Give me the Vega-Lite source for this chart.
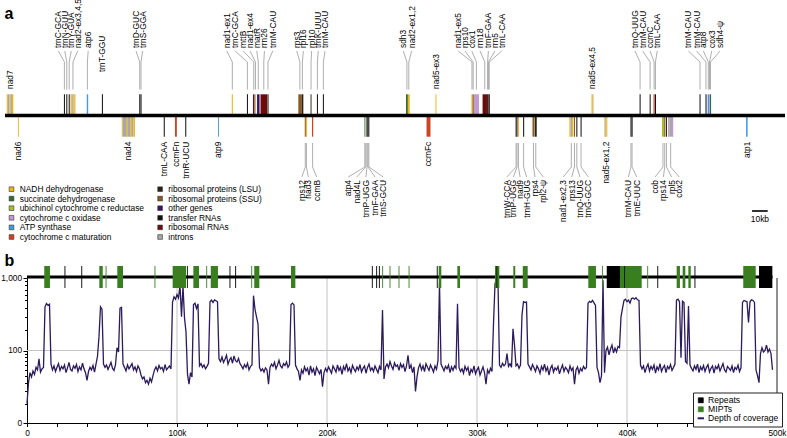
{
  "$schema": "https://vega.github.io/schema/vega-lite/v6.json",
  "width": 787,
  "height": 438,
  "autosize": "none",
  "padding": 0,
  "background": "white",
  "config": {"view": {"stroke": null}, "font": "Liberation Sans", "axis": {"labelOverlap": false, "labelBound": false}},
  "datasets": {
    "genes": [
      {"s":1.08,"e":1.78,"str":"t","cat":"NADH dehydrogenase"},
      {"s":1.78,"e":2.93,"str":"t","cat":"introns"},
      {"s":2.93,"e":3.63,"str":"t","cat":"NADH dehydrogenase"},
      {"s":3.63,"e":4.46,"str":"t","cat":"introns"},
      {"s":4.46,"e":5.29,"str":"t","cat":"NADH dehydrogenase"},
      {"s":37.55,"e":38.2,"str":"t","cat":"transfer RNAs"},
      {"s":39.05,"e":39.7,"str":"t","cat":"transfer RNAs"},
      {"s":40.6,"e":41.25,"str":"t","cat":"transfer RNAs"},
      {"s":41.7,"e":42.4,"str":"t","cat":"NADH dehydrogenase"},
      {"s":42.4,"e":43.2,"str":"t","cat":"introns"},
      {"s":43.2,"e":43.8,"str":"t","cat":"NADH dehydrogenase"},
      {"s":43.8,"e":44.3,"str":"t","cat":"introns"},
      {"s":44.3,"e":44.9,"str":"t","cat":"NADH dehydrogenase"},
      {"s":52.1,"e":53.0,"str":"t","cat":"ATP synthase"},
      {"s":61.75,"e":62.4,"str":"t","cat":"transfer RNAs"},
      {"s":85.55,"e":86.2,"str":"t","cat":"transfer RNAs"},
      {"s":86.35,"e":87.0,"str":"t","cat":"transfer RNAs"},
      {"s":144.5,"e":145.2,"str":"t","cat":"NADH dehydrogenase"},
      {"s":154.15,"e":154.8,"str":"t","cat":"transfer RNAs"},
      {"s":158.0,"e":159.0,"str":"t","cat":"other genes"},
      {"s":159.3,"e":159.9,"str":"t","cat":"NADH dehydrogenase"},
      {"s":160.6,"e":162.2,"str":"t","cat":"other genes"},
      {"s":162.8,"e":167.0,"str":"t","cat":"ribosomal RNAs"},
      {"s":167.25,"e":167.9,"str":"t","cat":"transfer RNAs"},
      {"s":186.9,"e":188.9,"str":"t","cat":"ribosomal proteins (SSU)"},
      {"s":188.9,"e":190.1,"str":"t","cat":"ribosomal proteins (LSU)"},
      {"s":194.7,"e":195.3,"str":"t","cat":"ribosomal proteins (LSU)"},
      {"s":198.75,"e":199.4,"str":"t","cat":"transfer RNAs"},
      {"s":202.55,"e":203.2,"str":"t","cat":"transfer RNAs"},
      {"s":255.5,"e":256.7,"str":"t","cat":"succinate dehydrogenase"},
      {"s":256.7,"e":257.9,"str":"t","cat":"NADH dehydrogenase"},
      {"s":274.3,"e":274.9,"str":"t","cat":"NADH dehydrogenase"},
      {"s":297.2,"e":297.9,"str":"t","cat":"NADH dehydrogenase"},
      {"s":297.9,"e":298.7,"str":"t","cat":"ribosomal proteins (SSU)"},
      {"s":298.8,"e":302.0,"str":"t","cat":"cytochrome c oxidase"},
      {"s":304.3,"e":307.1,"str":"t","cat":"ribosomal RNAs"},
      {"s":307.2,"e":307.8,"str":"t","cat":"transfer RNAs"},
      {"s":307.8,"e":308.2,"str":"t","cat":"ribosomal RNAs"},
      {"s":308.25,"e":308.9,"str":"t","cat":"transfer RNAs"},
      {"s":373.7,"e":374.2,"str":"t","cat":"NADH dehydrogenase"},
      {"s":374.2,"e":374.6,"str":"t","cat":"introns"},
      {"s":374.6,"e":375.0,"str":"t","cat":"NADH dehydrogenase"},
      {"s":404.35,"e":405.0,"str":"t","cat":"transfer RNAs"},
      {"s":410.75,"e":411.4,"str":"t","cat":"transfer RNAs"},
      {"s":413.2,"e":414.0,"str":"t","cat":"cytochrome c maturation"},
      {"s":414.15,"e":414.8,"str":"t","cat":"transfer RNAs"},
      {"s":442.55,"e":443.2,"str":"t","cat":"transfer RNAs"},
      {"s":446.35,"e":447.0,"str":"t","cat":"transfer RNAs"},
      {"s":447.7,"e":448.6,"str":"t","cat":"ATP synthase"},
      {"s":448.6,"e":449.2,"str":"t","cat":"cytochrome c oxidase"},
      {"s":449.2,"e":449.9,"str":"t","cat":"succinate dehydrogenase"},
      {"s":8.2,"e":8.8,"str":"b","cat":"NADH dehydrogenase"},
      {"s":74.4,"e":75.0,"str":"b","cat":"NADH dehydrogenase"},
      {"s":75.0,"e":77.1,"str":"b","cat":"introns"},
      {"s":77.1,"e":77.9,"str":"b","cat":"NADH dehydrogenase"},
      {"s":77.9,"e":80.1,"str":"b","cat":"introns"},
      {"s":80.1,"e":80.9,"str":"b","cat":"NADH dehydrogenase"},
      {"s":80.9,"e":81.8,"str":"b","cat":"introns"},
      {"s":81.8,"e":82.8,"str":"b","cat":"NADH dehydrogenase"},
      {"s":101.15,"e":101.8,"str":"b","cat":"transfer RNAs"},
      {"s":108.3,"e":109.5,"str":"b","cat":"cytochrome c maturation"},
      {"s":114.85,"e":115.5,"str":"b","cat":"transfer RNAs"},
      {"s":135.7,"e":136.3,"str":"b","cat":"ATP synthase"},
      {"s":191.0,"e":191.7,"str":"b","cat":"ribosomal proteins (SSU)"},
      {"s":191.7,"e":192.4,"str":"b","cat":"NADH dehydrogenase"},
      {"s":195.6,"e":196.4,"str":"b","cat":"cytochrome c maturation"},
      {"s":228.9,"e":229.6,"str":"b","cat":"ATP synthase"},
      {"s":229.6,"e":230.2,"str":"b","cat":"NADH dehydrogenase"},
      {"s":230.35,"e":230.95,"str":"b","cat":"transfer RNAs"},
      {"s":230.95,"e":231.55,"str":"b","cat":"transfer RNAs"},
      {"s":231.55,"e":232.15,"str":"b","cat":"transfer RNAs"},
      {"s":268.6,"e":271.1,"str":"b","cat":"cytochrome c maturation"},
      {"s":325.35,"e":325.95,"str":"b","cat":"transfer RNAs"},
      {"s":325.95,"e":326.55,"str":"b","cat":"transfer RNAs"},
      {"s":326.8,"e":327.5,"str":"b","cat":"NADH dehydrogenase"},
      {"s":330.15,"e":330.8,"str":"b","cat":"transfer RNAs"},
      {"s":336.1,"e":337.4,"str":"b","cat":"ribosomal proteins (SSU)"},
      {"s":337.6,"e":338.8,"str":"b","cat":"ribosomal proteins (LSU)"},
      {"s":359.6,"e":360.3,"str":"b","cat":"NADH dehydrogenase"},
      {"s":360.3,"e":361.3,"str":"b","cat":"introns"},
      {"s":361.3,"e":362.1,"str":"b","cat":"NADH dehydrogenase"},
      {"s":362.5,"e":363.2,"str":"b","cat":"ribosomal proteins (SSU)"},
      {"s":364.05,"e":364.7,"str":"b","cat":"transfer RNAs"},
      {"s":366.75,"e":367.4,"str":"b","cat":"transfer RNAs"},
      {"s":381.9,"e":382.5,"str":"b","cat":"NADH dehydrogenase"},
      {"s":382.5,"e":383.2,"str":"b","cat":"introns"},
      {"s":383.2,"e":383.8,"str":"b","cat":"NADH dehydrogenase"},
      {"s":398.55,"e":399.2,"str":"b","cat":"transfer RNAs"},
      {"s":399.25,"e":399.9,"str":"b","cat":"transfer RNAs"},
      {"s":418.6,"e":419.9,"str":"b","cat":"ubichinol cytochrome c reductase"},
      {"s":420.0,"e":420.7,"str":"b","cat":"ribosomal proteins (SSU)"},
      {"s":421.1,"e":421.8,"str":"b","cat":"ribosomal proteins (LSU)"},
      {"s":422.5,"e":423.2,"str":"b","cat":"cytochrome c oxidase"},
      {"s":423.2,"e":425.0,"str":"b","cat":"introns"},
      {"s":425.0,"e":425.8,"str":"b","cat":"cytochrome c oxidase"},
      {"s":472.2,"e":473.2,"str":"b","cat":"ATP synthase"}
    ],
    "labels": [
      {"n":"nad7","side":"t","lv":"near","lx":3.2,"gx":3.2},
      {"n":"trnT-GGU","side":"t","lv":"mid","lx":62.0,"gx":62.0},
      {"n":"nad5-ex3","side":"t","lv":"near","lx":274.6,"gx":274.6},
      {"n":"nad5-ex4,5","side":"t","lv":"near","lx":374.3,"gx":374.3},
      {"n":"trnC-GCA","side":"t","lv":"far","lx":34.0,"gx":37.85},
      {"n":"trnN-GUU","side":"t","lv":"far","lx":38.1,"gx":39.35},
      {"n":"trnY-GUA","side":"t","lv":"far","lx":42.2,"gx":40.9},
      {"n":"nad2-ex3,4,5","side":"t","lv":"far","lx":46.3,"gx":43.3},
      {"n":"atp6","side":"t","lv":"far","lx":53.0,"gx":52.5},
      {"n":"trnD-GUC","side":"t","lv":"far","lx":83.5,"gx":85.85},
      {"n":"trnS-GGA","side":"t","lv":"far","lx":87.7,"gx":86.65},
      {"n":"nad1-ex1","side":"t","lv":"far","lx":141.3,"gx":144.85},
      {"n":"trnC-GCA","side":"t","lv":"far","lx":146.6,"gx":154.45},
      {"n":"mttB","side":"t","lv":"far","lx":151.8,"gx":158.5},
      {"n":"nad1-ex4","side":"t","lv":"far","lx":156.1,"gx":159.6},
      {"n":"matR","side":"t","lv":"far","lx":160.4,"gx":161.4},
      {"n":"rrn26","side":"t","lv":"far","lx":165.3,"gx":164.9},
      {"n":"trnM-CAU","side":"t","lv":"far","lx":170.6,"gx":167.55},
      {"n":"rps3","side":"t","lv":"far","lx":185.9,"gx":187.9},
      {"n":"rpl16","side":"t","lv":"far","lx":190.1,"gx":189.5},
      {"n":"rpl10","side":"t","lv":"far","lx":195.4,"gx":195.0},
      {"n":"trnK-UUU","side":"t","lv":"far","lx":199.6,"gx":199.05},
      {"n":"trnM-CAU","side":"t","lv":"far","lx":203.9,"gx":202.85},
      {"n":"sdh3","side":"t","lv":"far","lx":253.8,"gx":256.1},
      {"n":"nad2-ex1,2","side":"t","lv":"far","lx":259.1,"gx":257.3},
      {"n":"nad1-ex5","side":"t","lv":"far","lx":288.8,"gx":297.55},
      {"n":"rps10","side":"t","lv":"far","lx":293.1,"gx":298.3},
      {"n":"cox1","side":"t","lv":"far","lx":297.4,"gx":300.4},
      {"n":"rrn18","side":"t","lv":"far","lx":302.7,"gx":305.7},
      {"n":"trnF-GAA","side":"t","lv":"far","lx":308.0,"gx":307.5},
      {"n":"rrn5","side":"t","lv":"far","lx":312.2,"gx":308.0},
      {"n":"trnL-CAA","side":"t","lv":"far","lx":316.5,"gx":308.55},
      {"n":"trnQ-UUG","side":"t","lv":"far","lx":401.4,"gx":404.65},
      {"n":"trnM-CAU","side":"t","lv":"far","lx":406.3,"gx":411.05},
      {"n":"ccmC","side":"t","lv":"far","lx":411.0,"gx":413.6},
      {"n":"trnL-CAA","side":"t","lv":"far","lx":415.6,"gx":414.45},
      {"n":"trnM-CAU","side":"t","lv":"far","lx":435.4,"gx":442.85},
      {"n":"trnM-CAU","side":"t","lv":"far","lx":440.7,"gx":446.65},
      {"n":"atp8","side":"t","lv":"far","lx":445.0,"gx":448.15},
      {"n":"cox3","side":"t","lv":"far","lx":450.3,"gx":448.9},
      {"n":"sdh4-ψ","side":"t","lv":"far","lx":455.6,"gx":449.55},
      {"n":"nad6","side":"b","lv":"near","lx":8.5,"gx":8.5},
      {"n":"nad4","side":"b","lv":"near","lx":78.2,"gx":78.2},
      {"n":"trnL-CAA","side":"b","lv":"near","lx":101.5,"gx":101.5},
      {"n":"ccmFn","side":"b","lv":"near","lx":108.9,"gx":108.9},
      {"n":"trnR-UCU","side":"b","lv":"near","lx":115.1,"gx":115.1},
      {"n":"atp9","side":"b","lv":"near","lx":135.9,"gx":135.9},
      {"n":"ccmFc","side":"b","lv":"near","lx":269.8,"gx":269.8},
      {"n":"nad5-ex1,2","side":"b","lv":"near","lx":382.8,"gx":382.8},
      {"n":"atp1","side":"b","lv":"near","lx":472.7,"gx":472.7},
      {"n":"rps12","side":"b","lv":"far","lx":189.1,"gx":191.35},
      {"n":"nad3","side":"b","lv":"far","lx":193.3,"gx":192.05},
      {"n":"ccmB","side":"b","lv":"far","lx":198.6,"gx":196.0},
      {"n":"atp4","side":"b","lv":"far","lx":218.7,"gx":229.25},
      {"n":"nad4L","side":"b","lv":"far","lx":224.1,"gx":229.9},
      {"n":"trnP-UGG","side":"b","lv":"far","lx":230.0,"gx":230.65},
      {"n":"trnF-GAA","side":"b","lv":"far","lx":235.8,"gx":231.25},
      {"n":"trnS-GCU","side":"b","lv":"far","lx":241.0,"gx":231.85},
      {"n":"trnW-CCA","side":"b","lv":"far","lx":319.7,"gx":325.65},
      {"n":"trnP-UGG","side":"b","lv":"far","lx":323.9,"gx":326.25},
      {"n":"nad9","side":"b","lv":"far","lx":328.2,"gx":327.15},
      {"n":"trnH-GUG","side":"b","lv":"far","lx":332.4,"gx":330.45},
      {"n":"rps4","side":"b","lv":"far","lx":337.7,"gx":336.75},
      {"n":"rpl2-ψ","side":"b","lv":"far","lx":343.0,"gx":338.2},
      {"n":"nad1-ex2,3","side":"b","lv":"far","lx":355.7,"gx":360.85},
      {"n":"rps13","side":"b","lv":"far","lx":361.1,"gx":362.85},
      {"n":"trnQ-UUG","side":"b","lv":"far","lx":366.4,"gx":364.35},
      {"n":"trnG-GCC","side":"b","lv":"far","lx":371.7,"gx":367.05},
      {"n":"trnM-CAU","side":"b","lv":"far","lx":397.2,"gx":398.85},
      {"n":"trnE-UUC","side":"b","lv":"far","lx":402.5,"gx":399.55},
      {"n":"cob","side":"b","lv":"far","lx":414.2,"gx":419.25},
      {"n":"rps14","side":"b","lv":"far","lx":419.5,"gx":420.35},
      {"n":"rpl5","side":"b","lv":"far","lx":424.8,"gx":421.45},
      {"n":"cox2","side":"b","lv":"far","lx":429.6,"gx":424.15}
    ],
    "genome": [{"s":0,"e":497}],
    "scalebar": [{"s":476,"e":486,"m":481,"t":"10kb"}],
    "track": [
      {"s":11.5,"e":15.3,"t":"MIPTs"},{"s":48.2,"e":50.5,"t":"MIPTs"},{"s":52.4,"e":53.0,"t":"MIPTs"},
      {"s":60.2,"e":64.0,"t":"MIPTs"},{"s":85.0,"e":85.6,"t":"MIPTs"},{"s":97.1,"e":106.0,"t":"MIPTs"},
      {"s":110.9,"e":114.7,"t":"MIPTs"},{"s":119.5,"e":120.1,"t":"MIPTs"},{"s":122.5,"e":127.3,"t":"MIPTs"},
      {"s":149.5,"e":150.1,"t":"MIPTs"},{"s":151.5,"e":154.9,"t":"MIPTs"},{"s":176.0,"e":178.9,"t":"MIPTs"},
      {"s":236.8,"e":237.4,"t":"MIPTs"},{"s":241.7,"e":242.3,"t":"MIPTs"},{"s":247.7,"e":248.3,"t":"MIPTs"},
      {"s":254.4,"e":255.0,"t":"MIPTs"},{"s":274.5,"e":276.2,"t":"MIPTs"},{"s":286.9,"e":288.7,"t":"MIPTs"},
      {"s":312.0,"e":314.9,"t":"MIPTs"},{"s":324.2,"e":325.5,"t":"MIPTs"},{"s":330.5,"e":333.8,"t":"MIPTs"},
      {"s":374.2,"e":379.3,"t":"MIPTs"},{"s":383.3,"e":383.9,"t":"MIPTs"},{"s":395.3,"e":409.8,"t":"MIPTs"},
      {"s":413.5,"e":414.1,"t":"MIPTs"},{"s":433.1,"e":435.3,"t":"MIPTs"},{"s":437.1,"e":438.9,"t":"MIPTs"},
      {"s":440.9,"e":442.5,"t":"MIPTs"},{"s":477.5,"e":485.8,"t":"MIPTs"},
      {"s":25.0,"e":25.6,"t":"Repeats"},{"s":36.2,"e":36.8,"t":"Repeats"},{"s":106.6,"e":107.2,"t":"Repeats"},
      {"s":135.0,"e":135.6,"t":"Repeats"},{"s":138.8,"e":139.4,"t":"Repeats"},{"s":229.9,"e":230.5,"t":"Repeats"},
      {"s":232.8,"e":233.4,"t":"Repeats"},{"s":234.6,"e":235.2,"t":"Repeats"},{"s":273.2,"e":273.8,"t":"Repeats"},
      {"s":313.0,"e":313.5,"t":"Repeats"},{"s":386.5,"e":395.3,"t":"Repeats"},{"s":398.2,"e":398.7,"t":"Repeats"},
      {"s":420.2,"e":420.8,"t":"Repeats"},{"s":445.0,"e":445.6,"t":"Repeats"},{"s":488.0,"e":496.9,"t":"Repeats"}
    ],
    "grid": [{"k":100},{"k":200},{"k":300},{"k":400}],
    "hgrid": [{"v":100}],
    "frame": [{"k":500}],
    "cov": [
      {"p":0,"d":10},{"p":1,"d":30},{"p":2,"d":45},{"p":3,"d":38},{"p":4,"d":48},{"p":5,"d":42},{"p":6,"d":55},{"p":7,"d":50},{"p":8,"d":75},{"p":9,"d":46},
      {"p":10,"d":52},{"p":11,"d":55},{"p":12,"d":410},{"p":13,"d":455},{"p":14,"d":430},{"p":15,"d":445},{"p":16,"d":62},{"p":17,"d":50},{"p":18,"d":58},{"p":19,"d":47},
      {"p":20,"d":55},{"p":21,"d":63},{"p":22,"d":49},{"p":23,"d":57},{"p":24,"d":52},{"p":25,"d":60},{"p":26,"d":45},{"p":27,"d":54},{"p":28,"d":66},{"p":29,"d":51},
      {"p":30,"d":48},{"p":31,"d":58},{"p":32,"d":53},{"p":33,"d":61},{"p":34,"d":47},{"p":35,"d":56},{"p":36,"d":50},{"p":37,"d":64},{"p":38,"d":52},{"p":39,"d":45},
      {"p":40,"d":33},{"p":41,"d":47},{"p":42,"d":55},{"p":43,"d":50},{"p":44,"d":59},{"p":45,"d":46},{"p":46,"d":62},{"p":47,"d":82},{"p":48,"d":160},{"p":49,"d":410},
      {"p":50,"d":380},{"p":51,"d":62},{"p":52,"d":55},{"p":53,"d":60},{"p":54,"d":51},{"p":55,"d":58},{"p":56,"d":66},{"p":57,"d":53},{"p":58,"d":49},{"p":59,"d":61},
      {"p":60,"d":110},{"p":61,"d":95},{"p":62,"d":395},{"p":63,"d":405},{"p":64,"d":62},{"p":65,"d":55},{"p":66,"d":48},{"p":67,"d":60},{"p":68,"d":52},{"p":69,"d":57},
      {"p":70,"d":63},{"p":71,"d":50},{"p":72,"d":56},{"p":73,"d":47},{"p":74,"d":58},{"p":75,"d":52},{"p":76,"d":41},{"p":77,"d":35},{"p":78,"d":38},{"p":79,"d":30},
      {"p":80,"d":33},{"p":81,"d":28},{"p":82,"d":36},{"p":83,"d":31},{"p":84,"d":40},{"p":85,"d":50},{"p":86,"d":56},{"p":87,"d":48},{"p":88,"d":59},{"p":89,"d":52},
      {"p":90,"d":55},{"p":91,"d":47},{"p":92,"d":61},{"p":93,"d":50},{"p":94,"d":54},{"p":95,"d":58},{"p":96,"d":52},{"p":97,"d":470},{"p":98,"d":560},{"p":99,"d":520},
      {"p":100,"d":600},{"p":101,"d":540},{"p":102,"d":800},{"p":103,"d":300},{"p":104,"d":780},{"p":105,"d":290},{"p":106,"d":185},{"p":107,"d":42},{"p":108,"d":28},{"p":109,"d":45},
      {"p":110,"d":38},{"p":111,"d":440},{"p":112,"d":460},{"p":113,"d":390},{"p":114,"d":450},{"p":115,"d":58},{"p":116,"d":63},{"p":117,"d":55},{"p":118,"d":60},{"p":119,"d":52},
      {"p":120,"d":57},{"p":121,"d":64},{"p":122,"d":480},{"p":123,"d":505},{"p":124,"d":470},{"p":125,"d":510},{"p":126,"d":495},{"p":127,"d":480},{"p":128,"d":75},{"p":129,"d":68},
      {"p":130,"d":80},{"p":131,"d":66},{"p":132,"d":74},{"p":133,"d":85},{"p":134,"d":62},{"p":135,"d":72},{"p":136,"d":78},{"p":137,"d":64},{"p":138,"d":83},{"p":139,"d":70},
      {"p":140,"d":67},{"p":141,"d":76},{"p":142,"d":63},{"p":143,"d":58},{"p":144,"d":52},{"p":145,"d":61},{"p":146,"d":55},{"p":147,"d":64},{"p":148,"d":50},{"p":149,"d":57},
      {"p":150,"d":60},{"p":151,"d":580},{"p":152,"d":380},{"p":153,"d":300},{"p":154,"d":240},{"p":155,"d":55},{"p":156,"d":48},{"p":157,"d":52},{"p":158,"d":46},{"p":159,"d":54},
      {"p":160,"d":50},{"p":161,"d":28},{"p":162,"d":55},{"p":163,"d":62},{"p":164,"d":57},{"p":165,"d":66},{"p":166,"d":52},{"p":167,"d":60},{"p":168,"d":71},{"p":169,"d":58},
      {"p":170,"d":54},{"p":171,"d":63},{"p":172,"d":59},{"p":173,"d":67},{"p":174,"d":55},{"p":175,"d":61},{"p":176,"d":440},{"p":177,"d":460},{"p":178,"d":435},{"p":179,"d":60},
      {"p":180,"d":52},{"p":181,"d":47},{"p":182,"d":33},{"p":183,"d":50},{"p":184,"d":44},{"p":185,"d":56},{"p":186,"d":48},{"p":187,"d":53},{"p":188,"d":41},{"p":189,"d":58},
      {"p":190,"d":46},{"p":191,"d":52},{"p":192,"d":40},{"p":193,"d":55},{"p":194,"d":49},{"p":195,"d":43},{"p":196,"d":51},{"p":197,"d":25},{"p":198,"d":45},{"p":199,"d":53},
      {"p":200,"d":47},{"p":201,"d":56},{"p":202,"d":50},{"p":203,"d":44},{"p":204,"d":58},{"p":205,"d":52},{"p":206,"d":46},{"p":207,"d":60},{"p":208,"d":49},{"p":209,"d":55},
      {"p":210,"d":42},{"p":211,"d":57},{"p":212,"d":50},{"p":213,"d":63},{"p":214,"d":48},{"p":215,"d":54},{"p":216,"d":45},{"p":217,"d":59},{"p":218,"d":52},{"p":219,"d":47},
      {"p":220,"d":56},{"p":221,"d":50},{"p":222,"d":61},{"p":223,"d":46},{"p":224,"d":53},{"p":225,"d":58},{"p":226,"d":44},{"p":227,"d":55},{"p":228,"d":62},{"p":229,"d":49},
      {"p":230,"d":54},{"p":231,"d":47},{"p":232,"d":58},{"p":233,"d":51},{"p":234,"d":45},{"p":235,"d":57},{"p":236,"d":50},{"p":237,"d":370},{"p":238,"d":35},{"p":239,"d":56},
      {"p":240,"d":62},{"p":241,"d":54},{"p":242,"d":68},{"p":243,"d":58},{"p":244,"d":51},{"p":245,"d":65},{"p":246,"d":57},{"p":247,"d":60},{"p":248,"d":49},{"p":249,"d":63},
      {"p":250,"d":55},{"p":251,"d":61},{"p":252,"d":47},{"p":253,"d":58},{"p":254,"d":85},{"p":255,"d":52},{"p":256,"d":60},{"p":257,"d":45},{"p":258,"d":56},{"p":259,"d":20},
      {"p":260,"d":38},{"p":261,"d":54},{"p":262,"d":62},{"p":263,"d":50},{"p":264,"d":58},{"p":265,"d":47},{"p":266,"d":63},{"p":267,"d":55},{"p":268,"d":49},{"p":269,"d":60},
      {"p":270,"d":53},{"p":271,"d":46},{"p":272,"d":58},{"p":273,"d":51},{"p":274,"d":70},{"p":275,"d":850},{"p":276,"d":62},{"p":277,"d":55},{"p":278,"d":48},{"p":279,"d":57},
      {"p":280,"d":52},{"p":281,"d":60},{"p":282,"d":45},{"p":283,"d":56},{"p":284,"d":49},{"p":285,"d":58},{"p":286,"d":53},{"p":287,"d":450},{"p":288,"d":55},{"p":289,"d":47},
      {"p":290,"d":52},{"p":291,"d":44},{"p":292,"d":57},{"p":293,"d":49},{"p":294,"d":55},{"p":295,"d":40},{"p":296,"d":51},{"p":297,"d":46},{"p":298,"d":58},{"p":299,"d":43},
      {"p":300,"d":50},{"p":301,"d":55},{"p":302,"d":41},{"p":303,"d":48},{"p":304,"d":56},{"p":305,"d":45},{"p":306,"d":28},{"p":307,"d":50},{"p":308,"d":44},{"p":309,"d":53},
      {"p":310,"d":47},{"p":311,"d":240},{"p":312,"d":830},{"p":313,"d":780},{"p":314,"d":860},{"p":315,"d":60},{"p":316,"d":55},{"p":317,"d":64},{"p":318,"d":58},{"p":319,"d":62},
      {"p":320,"d":90},{"p":321,"d":57},{"p":322,"d":63},{"p":323,"d":55},{"p":324,"d":205},{"p":325,"d":120},{"p":326,"d":58},{"p":327,"d":62},{"p":328,"d":53},{"p":329,"d":60},
      {"p":330,"d":320},{"p":331,"d":480},{"p":332,"d":470},{"p":333,"d":475},{"p":334,"d":62},{"p":335,"d":56},{"p":336,"d":50},{"p":337,"d":61},{"p":338,"d":54},{"p":339,"d":47},
      {"p":340,"d":58},{"p":341,"d":52},{"p":342,"d":44},{"p":343,"d":57},{"p":344,"d":50},{"p":345,"d":62},{"p":346,"d":48},{"p":347,"d":55},{"p":348,"d":41},{"p":349,"d":53},
      {"p":350,"d":59},{"p":351,"d":46},{"p":352,"d":54},{"p":353,"d":50},{"p":354,"d":57},{"p":355,"d":43},{"p":356,"d":52},{"p":357,"d":60},{"p":358,"d":47},{"p":359,"d":55},
      {"p":360,"d":51},{"p":361,"d":45},{"p":362,"d":58},{"p":363,"d":49},{"p":364,"d":54},{"p":365,"d":28},{"p":366,"d":50},{"p":367,"d":56},{"p":368,"d":44},{"p":369,"d":53},
      {"p":370,"d":48},{"p":371,"d":57},{"p":372,"d":52},{"p":373,"d":55},{"p":374,"d":460},{"p":375,"d":485},{"p":376,"d":470},{"p":377,"d":500},{"p":378,"d":465},{"p":379,"d":430},
      {"p":380,"d":55},{"p":381,"d":45},{"p":382,"d":30},{"p":383,"d":40},{"p":384,"d":930},{"p":385,"d":45},{"p":386,"d":100},{"p":387,"d":112},{"p":388,"d":86},{"p":389,"d":105},
      {"p":390,"d":120},{"p":391,"d":92},{"p":392,"d":108},{"p":393,"d":95},{"p":394,"d":115},{"p":395,"d":110},{"p":396,"d":300},{"p":397,"d":390},{"p":398,"d":500},{"p":399,"d":520},
      {"p":400,"d":480},{"p":401,"d":505},{"p":402,"d":460},{"p":403,"d":530},{"p":404,"d":540},{"p":405,"d":520},{"p":406,"d":545},{"p":407,"d":510},{"p":408,"d":500},{"p":409,"d":60},
      {"p":410,"d":52},{"p":411,"d":58},{"p":412,"d":45},{"p":413,"d":55},{"p":414,"d":62},{"p":415,"d":48},{"p":416,"d":57},{"p":417,"d":51},{"p":418,"d":60},{"p":419,"d":44},
      {"p":420,"d":56},{"p":421,"d":50},{"p":422,"d":63},{"p":423,"d":47},{"p":424,"d":54},{"p":425,"d":59},{"p":426,"d":45},{"p":427,"d":57},{"p":428,"d":52},{"p":429,"d":61},
      {"p":430,"d":49},{"p":431,"d":55},{"p":432,"d":62},{"p":433,"d":505},{"p":434,"d":520},{"p":435,"d":480},{"p":436,"d":78},{"p":437,"d":490},{"p":438,"d":470},{"p":439,"d":68},
      {"p":440,"d":64},{"p":441,"d":420},{"p":442,"d":60},{"p":443,"d":53},{"p":444,"d":48},{"p":445,"d":58},{"p":446,"d":51},{"p":447,"d":62},{"p":448,"d":45},{"p":449,"d":56},
      {"p":450,"d":50},{"p":451,"d":59},{"p":452,"d":47},{"p":453,"d":55},{"p":454,"d":61},{"p":455,"d":46},{"p":456,"d":53},{"p":457,"d":58},{"p":458,"d":44},{"p":459,"d":57},
      {"p":460,"d":52},{"p":461,"d":60},{"p":462,"d":48},{"p":463,"d":55},{"p":464,"d":63},{"p":465,"d":50},{"p":466,"d":46},{"p":467,"d":57},{"p":468,"d":53},{"p":469,"d":49},
      {"p":470,"d":58},{"p":471,"d":45},{"p":472,"d":55},{"p":473,"d":51},{"p":474,"d":60},{"p":475,"d":47},{"p":476,"d":54},{"p":477,"d":470},{"p":478,"d":500},{"p":479,"d":490},
      {"p":480,"d":480},{"p":481,"d":250},{"p":482,"d":480},{"p":483,"d":510},{"p":484,"d":500},{"p":485,"d":470},{"p":486,"d":50},{"p":487,"d":40},{"p":488,"d":30},{"p":489,"d":90},
      {"p":490,"d":110},{"p":491,"d":95},{"p":492,"d":100},{"p":493,"d":120},{"p":494,"d":95},{"p":495,"d":105},{"p":496,"d":90},{"p":497,"d":50}
    ]
  },
  "resolve": {"scale": {"x": "independent", "y": "independent"}},
  "layer": [
    {
      "layer": [
        {
          "data": {"name": "genes"},
          "transform": [{"filter": "datum.str === 't'"}],
          "mark": {"type": "rect"},
          "encoding": {
            "x": {"field": "s", "type": "quantitative", "scale": {"domain": [0, 497], "range": [5, 785], "nice": false, "zero": false}, "axis": null},
            "x2": {"field": "e"},
            "y": {"datum": 1.2, "type": "quantitative", "scale": {"domain": [-122.5, 115.5], "range": [238, 0], "nice": false, "zero": false},
                  "axis": {"orient": "left", "domain": false, "ticks": false, "labels": false, "grid": false, "title": "a", "titleX": 4, "titleY": 18, "titleAngle": 0, "titleAlign": "left", "titleBaseline": "alphabetic", "titleFontSize": 16, "titleFontWeight": "bold", "titleColor": "#000", "titleFont": "Liberation Sans"}},
            "y2": {"datum": 21.2},
            "fill": {"field": "cat", "type": "nominal",
              "scale": {
                "domain": ["NADH dehydrogenase", "succinate dehydrogenase", "ubichinol cytochrome c reductase", "cytochrome c oxidase", "ATP synthase", "cytochrome c maturation", "ribosomal proteins (LSU)", "ribosomal proteins (SSU)", "other genes", "transfer RNAs", "ribosomal RNAs", "introns"],
                "range": ["#f2b418", "#2f6e32", "#a8bf22", "#c39ad0", "#3c9de6", "#cc4420", "#2a2214", "#8a5a1e", "#3c1464", "#111111", "#6e0a0a", "#a8a8a8"]
              },
              "legend": {"orient": "none", "legendX": 7.3, "legendY": 184.8, "columns": 2, "title": null, "symbolType": "square", "symbolSize": 22, "symbolStrokeColor": "#333", "symbolStrokeWidth": 0.6, "labelFontSize": 8.4, "labelFont": "Liberation Sans", "labelColor": "#000", "rowPadding": 0.6, "columnPadding": 11.6, "labelOffset": 4, "padding": 0, "labelLimit": 300}
            }
          }
        },
        {
          "data": {"name": "genes"},
          "transform": [{"filter": "datum.str === 'b'"}],
          "mark": {"type": "rect"},
          "encoding": {
            "x": {"field": "s", "type": "quantitative"},
            "x2": {"field": "e"},
            "y": {"datum": -1.2},
            "y2": {"datum": -21.2},
            "fill": {"field": "cat", "type": "nominal"}
          }
        },
        {
          "data": {"name": "genome"},
          "mark": {"type": "rule", "color": "#000", "strokeWidth": 3.3},
          "encoding": {"x": {"field": "s", "type": "quantitative"}, "x2": {"field": "e"}, "y": {"datum": 0}}
        },
        {
          "data": {"name": "labels"},
          "transform": [{"filter": "datum.side === 't' && datum.lv === 'far'"}],
          "mark": {"type": "rule", "color": "#999", "strokeWidth": 0.8},
          "encoding": {"x": {"field": "lx", "type": "quantitative"}, "x2": {"field": "gx"}, "y": {"datum": 64.5}, "y2": {"datum": 53.5}}
        },
        {
          "data": {"name": "labels"},
          "transform": [{"filter": "datum.side === 't' && datum.lv === 'far'"}],
          "mark": {"type": "rule", "color": "#999", "strokeWidth": 0.8},
          "encoding": {"x": {"field": "gx", "type": "quantitative"}, "y": {"datum": 53.5}, "y2": {"datum": 26}}
        },
        {
          "data": {"name": "labels"},
          "transform": [{"filter": "datum.side === 'b' && datum.lv === 'far'"}],
          "mark": {"type": "rule", "color": "#999", "strokeWidth": 0.8},
          "encoding": {"x": {"field": "gx", "type": "quantitative"}, "y": {"datum": -27.5}, "y2": {"datum": -51.5}}
        },
        {
          "data": {"name": "labels"},
          "transform": [{"filter": "datum.side === 'b' && datum.lv === 'far'"}],
          "mark": {"type": "rule", "color": "#999", "strokeWidth": 0.8},
          "encoding": {"x": {"field": "gx", "type": "quantitative"}, "x2": {"field": "lx"}, "y": {"datum": -51.5}, "y2": {"datum": -61.5}}
        },
        {
          "data": {"name": "labels"},
          "transform": [{"filter": "datum.side === 't' && datum.lv === 'far'"}],
          "mark": {"type": "text", "angle": 270, "align": "left", "baseline": "middle", "fontSize": 8.4, "color": "#000"},
          "encoding": {"x": {"field": "lx", "type": "quantitative"}, "y": {"datum": 67.5}, "text": {"field": "n"}}
        },
        {
          "data": {"name": "labels"},
          "transform": [{"filter": "datum.side === 't' && datum.lv === 'near'"}],
          "mark": {"type": "text", "angle": 270, "align": "left", "baseline": "middle", "fontSize": 8.4, "color": "#000"},
          "encoding": {"x": {"field": "lx", "type": "quantitative"}, "y": {"datum": 26.5}, "text": {"field": "n"}}
        },
        {
          "data": {"name": "labels"},
          "transform": [{"filter": "datum.side === 't' && datum.lv === 'mid'"}],
          "mark": {"type": "text", "angle": 270, "align": "left", "baseline": "middle", "fontSize": 8.4, "color": "#000"},
          "encoding": {"x": {"field": "lx", "type": "quantitative"}, "y": {"datum": 43.5}, "text": {"field": "n"}}
        },
        {
          "data": {"name": "labels"},
          "transform": [{"filter": "datum.side === 'b' && datum.lv === 'near'"}],
          "mark": {"type": "text", "angle": 270, "align": "right", "baseline": "middle", "fontSize": 8.4, "color": "#000"},
          "encoding": {"x": {"field": "lx", "type": "quantitative"}, "y": {"datum": -26.2}, "text": {"field": "n"}}
        },
        {
          "data": {"name": "labels"},
          "transform": [{"filter": "datum.side === 'b' && datum.lv === 'far'"}],
          "mark": {"type": "text", "angle": 270, "align": "right", "baseline": "middle", "fontSize": 8.4, "color": "#000"},
          "encoding": {"x": {"field": "lx", "type": "quantitative"}, "y": {"datum": -64.5}, "text": {"field": "n"}}
        },
        {
          "data": {"name": "scalebar"},
          "mark": {"type": "rule", "color": "#000", "strokeWidth": 1.6},
          "encoding": {"x": {"field": "s", "type": "quantitative"}, "x2": {"field": "e"}, "y": {"datum": -95.5}}
        },
        {
          "data": {"name": "scalebar"},
          "mark": {"type": "text", "align": "center", "baseline": "middle", "fontSize": 8.4, "color": "#000"},
          "encoding": {"x": {"field": "m", "type": "quantitative"}, "y": {"datum": -103}, "text": {"field": "t"}}
        }
      ]
    },
    {
      "resolve": {"axis": {"x": "independent", "y": "independent"}},
      "layer": [
        {
          "data": {"name": "grid"},
          "mark": {"type": "rule", "color": "#c4c4c4", "strokeWidth": 1},
          "encoding": {
            "x": {"field": "k", "type": "quantitative", "scale": {"domain": [0, 500], "range": [27, 777], "nice": false, "zero": false},
                  "axis": {"orient": "bottom", "offset": -15, "values": [20,40,60,80,120,140,160,180,220,240,260,280,320,340,360,380,420,440,460,480],
                           "labels": false, "domain": false, "tickSize": 3.5, "tickColor": "#000", "grid": false, "title": null}},
            "y": {"datum": 0, "type": "quantitative", "scale": {"type": "symlog", "constant": 12.5, "domain": [0, 1000], "range": [423, 278], "nice": false, "zero": false},
                  "axis": {"orient": "left", "offset": -27, "values": [10,20,30,40,50,60,70,80,90,200,300,400,500,600,700,800,900],
                           "labels": false, "domain": false, "tickSize": 2.5, "tickColor": "#000", "grid": false, "title": null}},
            "y2": {"datum": 1000}
          }
        },
        {
          "data": {"name": "hgrid"},
          "mark": {"type": "rule", "color": "#c4c4c4", "strokeWidth": 1},
          "encoding": {"y": {"field": "v", "type": "quantitative", "axis": null}, "x": {"datum": 0, "axis": null}, "x2": {"datum": 500}}
        },
        {
          "data": {"name": "frame"},
          "mark": {"type": "rule", "color": "#222", "strokeWidth": 1},
          "encoding": {"x": {"field": "k", "type": "quantitative", "axis": null}, "y": {"datum": 0, "axis": null}, "y2": {"datum": 1000}}
        },
        {
          "data": {"name": "cov"},
          "mark": {"type": "line", "strokeWidth": 1.3},
          "encoding": {
            "x": {"field": "p", "type": "quantitative",
                  "axis": {"orient": "bottom", "offset": -15, "values": [0,100,200,300,400,500],
                           "labelExpr": "datum.value === 0 ? '0' : datum.value + 'k'",
                           "tickSize": 3.5, "tickColor": "#000", "domainColor": "#000", "labelColor": "#000", "labelFontSize": 8.3, "labelPadding": 1.5, "labelFlush": false, "labelOverlap": false, "grid": false, "title": null}},
            "y": {"field": "d", "type": "quantitative",
                  "axis": {"orient": "left", "offset": -27, "values": [0,100,1000],
                           "labelExpr": "datum.value === 1000 ? '1,000' : (datum.value === 100 ? '100' : '0')",
                           "tickSize": 4, "tickColor": "#000", "domainColor": "#000", "labelColor": "#000", "labelFontSize": 8.3, "labelPadding": 1.5, "labelOverlap": false, "labelFlush": false, "grid": false,
                           "title": "b", "titleX": -23, "titleY": 265, "titleAngle": 0, "titleAlign": "left", "titleBaseline": "alphabetic", "titleFontSize": 16, "titleFontWeight": "bold", "titleColor": "#000"}},
            "color": {"datum": "Depth of coverage"}
          }
        }
      ]
    },
    {
      "layer": [
        {
          "data": {"name": "genome"},
          "mark": {"type": "rule", "color": "#000", "strokeWidth": 3},
          "encoding": {
            "x": {"field": "s", "type": "quantitative", "scale": {"domain": [0, 500], "range": [27, 777], "nice": false, "zero": false}, "axis": null},
            "x2": {"field": "e"},
            "y": {"datum": 0, "type": "quantitative", "scale": {"domain": [-1, 1], "range": [288, 266], "nice": false, "zero": false}, "axis": null}
          }
        },
        {
          "data": {"name": "track"},
          "mark": {"type": "rect"},
          "encoding": {
            "x": {"field": "s", "type": "quantitative"},
            "x2": {"field": "e"},
            "y": {"datum": -1},
            "y2": {"datum": 1},
            "color": {"field": "t", "type": "nominal",
              "scale": {"domain": ["Repeats", "MIPTs", "Depth of coverage"], "range": ["#000000", "#3a7f1f", "#2b1a5e"]},
              "legend": {"orient": "none", "legendX": 693, "legendY": 392.5, "title": null, "strokeColor": "#222", "fillColor": "#fff", "padding": 3.5, "symbolType": "square", "symbolSize": 26, "labelFontSize": 8.6, "labelFont": "Liberation Sans", "labelColor": "#000", "rowPadding": -1.3, "labelOffset": 3, "labelLimit": 200,
                "encode": {"symbols": {"update": {
                  "shape": {"signal": "datum.value === 'Depth of coverage' ? 'stroke' : 'square'"},
                  "fill": {"signal": "datum.value === 'Repeats' ? '#000000' : datum.value === 'MIPTs' ? '#3a7f1f' : 'transparent'"},
                  "stroke": {"signal": "datum.value === 'Depth of coverage' ? '#2b1a5e' : '#222222'"},
                  "strokeWidth": {"signal": "datum.value === 'Depth of coverage' ? 2 : 0.6"},
                  "size": {"signal": "datum.value === 'Depth of coverage' ? 40 : 26"}
                }}}
              }
            }
          }
        }
      ]
    }
  ]
}
